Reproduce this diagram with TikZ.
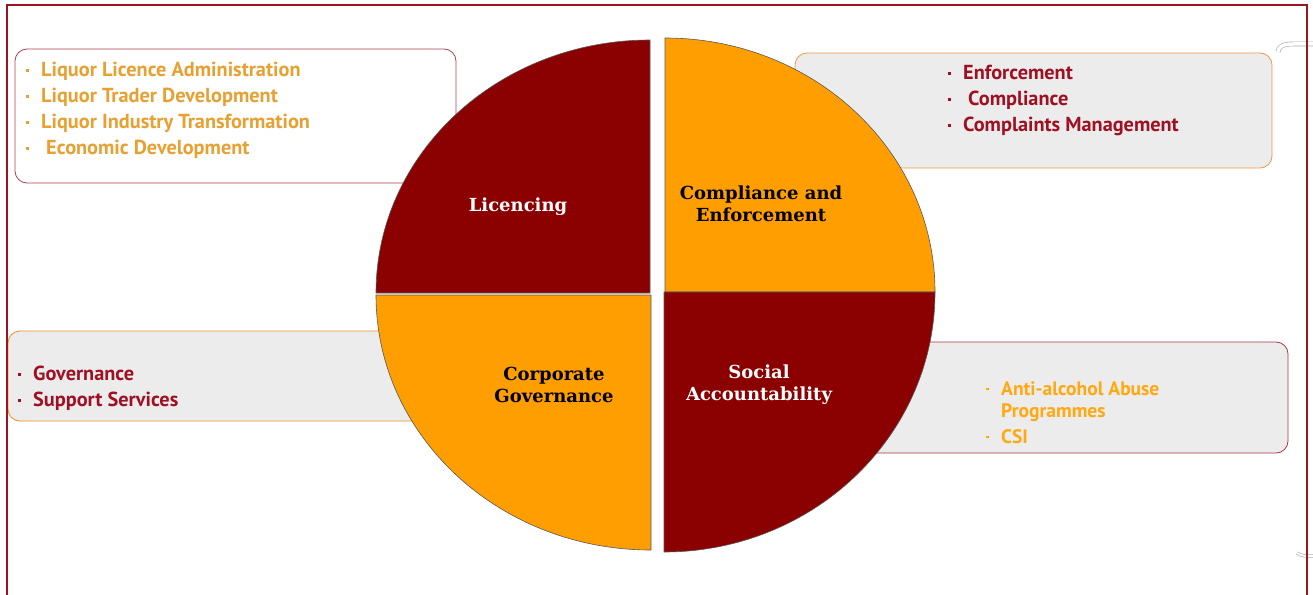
\documentclass[tikz,border=0pt]{standalone}
\usepackage{fontspec}
\usepackage{xcolor}
\usepackage{tikz}
\usetikzlibrary{positioning}

\newfontfamily\listfont{PT Sans}
\newfontfamily\quadfont{DejaVu Serif}

\definecolor{frameRed}{RGB}{155,20,32}
\definecolor{quadRed}{RGB}{139,0,0}
\definecolor{quadOrange}{RGB}{255,158,0}
\definecolor{textGold}{RGB}{232,160,48}
\definecolor{textRed}{RGB}{158,16,34}
\definecolor{textOrange}{RGB}{255,168,16}
\definecolor{boxGray}{RGB}{236,236,236}

% small square bullet, same colour as the text
\newcommand{\itm}{\makebox[15pt][l]{\raisebox{4.9pt}{\rule{2.6pt}{2.6pt}}}}

\begin{document}
\begin{tikzpicture}[
  x=1pt, y=-1pt,
  every node/.style={inner sep=0pt},
  listbox/.style={rectangle, rounded corners=12pt, line width=0.8pt},
  quadrant/.style={draw=black!65, line width=0.6pt},
  quadlabel/.style={font=\quadfont\bfseries\fontsize{18}{22}\selectfont,
                    align=center},
  itemlist/.style={font=\listfont\bfseries\fontsize{20.3}{26}\selectfont,
                   align=left, anchor=north west}
]
  \useasboundingbox (0,0) rectangle (1313,594);

  % Boxes behind the pie
  \node[listbox, draw=frameRed!80, fill=white,
        minimum width=441pt, minimum height=134pt] (licBox) at (235.5,116) {};
  \node[listbox, draw=orange!70!brown!80, fill=boxGray,
        minimum width=477pt, minimum height=115pt] (compBox) at (1033.5,110.5) {};
  \node[listbox, draw=orange!80!brown!90, fill=boxGray,
        minimum width=492pt, minimum height=90pt] (govBox) at (254,376) {};
  \node[listbox, draw=frameRed!85, fill=boxGray,
        minimum width=438pt, minimum height=111pt] (socBox) at (1069,397.5) {};

  % Item lists
  \node[itemlist, text=textGold] (licList) at (26,62)
    {\itm Liquor Licence Administration\\
     \itm Liquor Trader Development\\
     \itm Liquor Industry Transformation\\
     \itm\hspace{5pt}Economic Development};
  \node[itemlist, text=textRed] (compList) at (948,65)
    {\itm Enforcement\\
     \itm\hspace{5pt}Compliance\\
     \itm Complaints Management};
  \node[itemlist, text=textRed] (govList) at (18,366)
    {\itm Governance\\
     \itm Support Services};
  \node[itemlist, text=textOrange, font=\listfont\bfseries\fontsize{19.5}{22}\selectfont]
    (socList) at (986,381)
    {\itm Anti-alcohol Abuse\\
     \hspace*{15pt}Programmes\\[4pt]
     \itm CSI};

  % Pie quadrants
  \fill[quadRed, quadrant] (650,293) -- ++(-274,0)
    arc[start angle=180, end angle=270, x radius=274, y radius=253] -- cycle;
  \fill[quadOrange, quadrant] (665,292) -- ++(0,-254)
    arc[start angle=270, end angle=360, x radius=270, y radius=254] -- cycle;
  \fill[quadOrange, quadrant] (651,295) -- ++(-275,0)
    arc[start angle=180, end angle=90, x radius=275, y radius=255] -- cycle;
  \fill[quadRed, quadrant] (664,292) -- ++(271,0)
    arc[start angle=0, end angle=90, x radius=271, y radius=260] -- cycle;

  % Quadrant labels
  \node[quadlabel, text=white] (licencing)  at (518,207) {Licencing};
  \node[quadlabel, text=black] (compliance) at (761,204) {Compliance and\\Enforcement};
  \node[quadlabel, text=black] (corporate)  at (554,385) {Corporate\\Governance};
  \node[quadlabel, text=white] (social)     at (759,385) {Social\\Accountability};

  % Brace ends at the right edge
  \draw[gray!70, line width=0.6pt, double=white, double distance=3.5pt]
    (1278,52) .. controls (1278,46) and (1284,44) .. (1293,44) -- (1318,44);
  \draw[gray!70, line width=0.6pt, double=white, double distance=2pt]
    (1297,553) .. controls (1302,556) .. (1318,556);

  % Frame
  \draw[frameRed, line width=1.6pt] (7,600) -- (7,5) -- (1307,5) -- (1307,600);
\end{tikzpicture}
\end{document}
